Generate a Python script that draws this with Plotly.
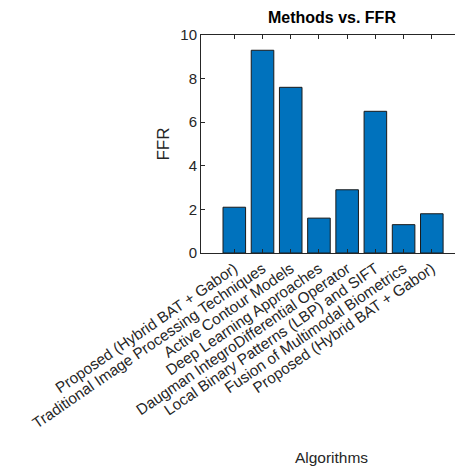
import plotly.graph_objects as go

methods = [
    "Proposed (Hybrid BAT + Gabor)",
    "Traditional Image Processing Techniques",
    "Active Contour Models",
    "Deep Learning Approaches",
    "Daugman IntegroDifferential Operator",
    "Local Binary Patterns (LBP) and SIFT",
    "Fusion of Multimodal Biometrics",
    "Proposed (Hybrid BAT + Gabor)",
]
ffr = [2.1, 9.3, 7.6, 1.6, 2.9, 6.5, 1.3, 1.8]
positions = list(range(1, len(methods) + 1))
y_ticks = [0, 2, 4, 6, 8, 10]

font_family = "Liberation Sans, Arial, sans-serif"

fig = go.Figure(
    go.Bar(
        x=positions,
        y=ffr,
        width=0.8,
        marker=dict(color="#0072BD", line=dict(color="#1a1a1a", width=1)),
    )
)

fig.update_layout(
    width=455,
    height=463,
    margin=dict(l=193, r=1, t=27, b=218),
    paper_bgcolor="white",
    plot_bgcolor="white",
    showlegend=False,
    font=dict(family=font_family, color="#262626"),
    title=dict(
        text="<b>Methods vs. FFR</b>",
        x=0.712,
        xanchor="center",
        y=0.98,
        yanchor="middle",
        font=dict(size=16, color="#000000"),
    ),
    xaxis=dict(
        range=[-0.18, 9.07],
        automargin=False,
        tickmode="array",
        tickvals=positions,
        ticktext=methods,
        tickangle=-34.5,
        ticks="inside",
        ticklen=4,
        tickcolor="#262626",
        showline=True,
        linecolor="#262626",
        linewidth=1,
        mirror="ticks",
        showgrid=False,
        zeroline=False,
        tickfont=dict(size=15.3, color="#262626"),
        title=dict(text="Algorithms", font=dict(size=15.5, color="#262626"), standoff=21),
    ),
    yaxis=dict(
        range=[0, 10],
        automargin=False,
        tickmode="array",
        tickvals=y_ticks,
        ticks="inside",
        ticklen=4,
        tickcolor="#262626",
        showline=True,
        linecolor="#262626",
        linewidth=1,
        mirror="ticks",
        showgrid=False,
        zeroline=False,
        tickfont=dict(size=15, color="#262626"),
        title=dict(text="FFR", font=dict(size=17, color="#262626"), standoff=6),
    ),
)

fig.write_html("out.html")
